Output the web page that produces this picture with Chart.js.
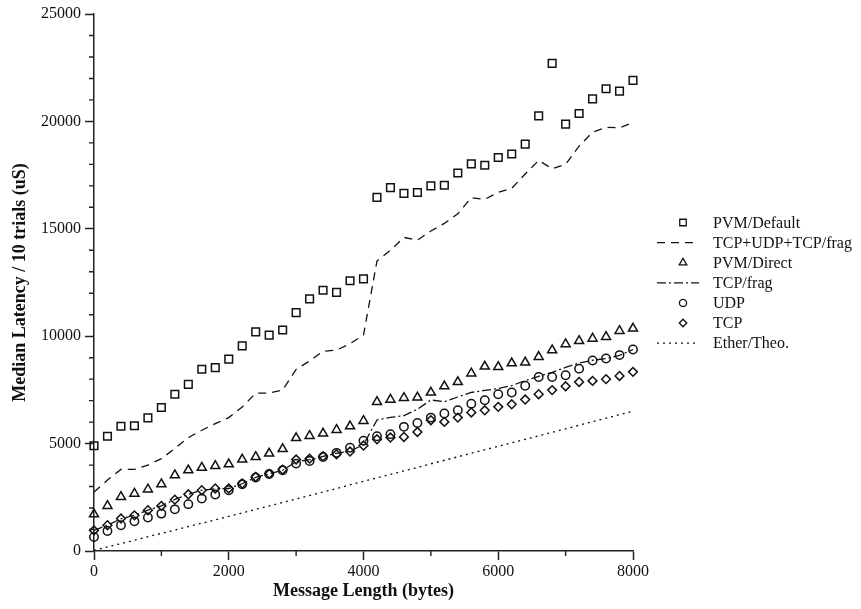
<!DOCTYPE html>
<html>
<head>
<meta charset="utf-8">
<script src="https://cdn.jsdelivr.net/npm/chart.js@4.4.0/dist/chart.umd.min.js"></script>
<style>
    html, body { margin: 0; padding: 0; background: #fff; }
    #contenedor { width: 861px; height: 609px; }
</style>
</head>
<body>
<div id="contenedor"><canvas id="grafico" width="861" height="609"></canvas></div>
<script>
// message lengths (bytes), one sample every 200 bytes
const bytes = [0, 200, 400, 600, 800, 1000, 1200, 1400, 1600, 1800,
    2000, 2200, 2400, 2600, 2800, 3000, 3200, 3400, 3600, 3800,
    4000, 4200, 4400, 4600, 4800, 5000, 5200, 5400, 5600, 5800,
    6000, 6200, 6400, 6600, 6800, 7000, 7200, 7400, 7600, 7800, 8000];

// median latency (uS)
const pvmDefault = [4900, 5340, 5810, 5830, 6200, 6680, 7300, 7760, 8460, 8540,
    8930, 9550, 10200, 10050, 10290, 11100, 11740, 12140, 12040, 12580,
    12670, 16460, 16920, 16650, 16690, 17000, 17030, 17600, 18020, 17960,
    18320, 18480, 18940, 20260, 22700, 19870, 20370, 21050, 21520, 21410, 21910];
const tcpUdpFrag = [2750, 3300, 3800, 3800, 4000, 4300, 4770, 5280, 5620, 5930,
    6210, 6700, 7350, 7350, 7500, 8450, 8850, 9300, 9350, 9650,
    10050, 13500, 14000, 14600, 14470, 14900, 15250, 15700, 16450, 16370,
    16700, 16880, 17550, 18180, 17800, 18000, 18850, 19500, 19720, 19700, 19950];
const pvmDirect = [1710, 2100, 2520, 2670, 2870, 3110, 3530, 3760, 3880, 3960,
    4040, 4260, 4380, 4540, 4750, 5260, 5360, 5470, 5640, 5810,
    6060, 6940, 7050, 7130, 7150, 7380, 7670, 7870, 8270, 8590,
    8570, 8740, 8780, 9040, 9350, 9630, 9780, 9890, 9970, 10250, 10360];
const tcpFrag = [960, 1200, 1500, 1660, 1900, 2100, 2400, 2640, 2830, 2900,
    2910, 3130, 3430, 3590, 3760, 4150, 4250, 4400, 4550, 4650,
    4950, 6100, 6220, 6300, 6600, 7030, 6950, 7170, 7380, 7480,
    7560, 7700, 7930, 8130, 8320, 8550, 8750, 8880, 8960, 9110, 9380];
const udp = [650, 930, 1200, 1380, 1560, 1740, 1940, 2180, 2440, 2630,
    2830, 3110, 3420, 3590, 3760, 4070, 4190, 4380, 4570, 4810,
    5130, 5340, 5440, 5780, 5960, 6210, 6400, 6550, 6860, 7020,
    7300, 7380, 7690, 8100, 8100, 8180, 8490, 8870, 8960, 9120, 9380];
const tcp = [960, 1200, 1510, 1660, 1900, 2100, 2390, 2640, 2830, 2910,
    2910, 3140, 3450, 3590, 3790, 4260, 4300, 4410, 4500, 4630,
    4910, 5200, 5280, 5310, 5540, 6090, 6010, 6210, 6450, 6550,
    6710, 6830, 7050, 7300, 7490, 7670, 7870, 7920, 8000, 8150, 8340];

// theoretical ethernet line
const etherBytes = [0, 1000, 2000, 3000, 4000, 5000, 6000, 7000, 8000];
const etherTheo = [30, 820, 1610, 2420, 3240, 4060, 4870, 5690, 6510];

const xTicksMajor = [0, 2000, 4000, 6000, 8000];
const yTicksMajor = [0, 5000, 10000, 15000, 20000, 25000];

const fuente = "'Liberation Serif', 'Times New Roman', serif";
const negro = "#111";

function puntos(xs, ys) {
    return xs.map((x, i) => ({ x: x, y: ys[i] }));
}

function serieMarcas(label, ys, estilo, radio) {
    return {
        label: label,
        data: puntos(bytes, ys),
        showLine: false,
        clip: false,
        pointStyle: estilo,
        pointRadius: radio,
        pointHoverRadius: radio,
        pointBorderWidth: 1.5,
        pointBorderColor: negro,
        pointBackgroundColor: "rgba(0,0,0,0)"
    };
}

function serieLinea(label, xs, ys, dash) {
    return {
        label: label,
        data: puntos(xs, ys),
        showLine: true,
        clip: false,
        borderColor: negro,
        borderWidth: 1.3,
        borderDash: dash,
        pointRadius: 0,
        tension: 0,
        fill: false
    };
}

// minor ticks (shorter) drawn on the scales
const ticksMenores = {
    id: "ticksMenores",
    afterDraw(chart) {
        const ctx = chart.ctx;
        const sx = chart.scales.x;
        const sy = chart.scales.y;
        ctx.save();
        ctx.strokeStyle = "#222";
        ctx.lineWidth = 1.4;
        ctx.beginPath();
        sx.ticks.forEach(t => {
            if (xTicksMajor.includes(t.value)) return;
            const px = sx.getPixelForValue(t.value);
            ctx.moveTo(px, sx.top);
            ctx.lineTo(px, sx.top + 5);
        });
        sy.ticks.forEach(t => {
            if (yTicksMajor.includes(t.value)) return;
            const py = sy.getPixelForValue(t.value);
            ctx.moveTo(sy.right, py);
            ctx.lineTo(sy.right - 5, py);
        });
        ctx.stroke();
        ctx.restore();
    }
};

// legend on the right side
const leyenda = {
    id: "leyenda",
    afterDraw(chart) {
        const ctx = chart.ctx;
        const y0 = 222.5;
        const paso = 20.1;
        ctx.save();
        ctx.font = "16px " + fuente;
        ctx.textBaseline = "middle";
        ctx.fillStyle = negro;
        chart.data.datasets.forEach((ds, i) => {
            const y = y0 + i * paso;
            ctx.strokeStyle = negro;
            if (ds.showLine) {
                ctx.lineWidth = ds.borderWidth;
                ctx.setLineDash(ds.borderDash || []);
                ctx.beginPath();
                ctx.moveTo(657, y);
                ctx.lineTo(699, y);
                ctx.stroke();
                ctx.setLineDash([]);
            } else {
                ctx.lineWidth = 1.3;
                ctx.fillStyle = "rgba(0,0,0,0)";
                Chart.helpers.drawPoint(ctx, {
                    pointStyle: ds.pointStyle,
                    radius: ds.pointRadius * 0.85,
                    rotation: 0,
                    borderWidth: 1.3
                }, 683, y);
                ctx.fillStyle = negro;
            }
            ctx.fillText(ds.label, 713, y + 1);
        });
        ctx.restore();
    }
};

const ctxGrafico = document.getElementById("grafico").getContext("2d");

const grafico = new Chart(ctxGrafico, {
    type: "scatter",
    data: {
        datasets: [
            serieMarcas("PVM/Default", pvmDefault, "rect", 5.4),
            serieLinea("TCP+UDP+TCP/frag", bytes, tcpUdpFrag, [8, 6]),
            serieMarcas("PVM/Direct", pvmDirect, "triangle", 5.2),
            serieLinea("TCP/frag", bytes, tcpFrag, [9, 3, 2, 3]),
            serieMarcas("UDP", udp, "circle", 4.2),
            serieMarcas("TCP", tcp, "rectRot", 4.4),
            serieLinea("Ether/Theo.", etherBytes, etherTheo, [2, 4])
        ]
    },
    options: {
        responsive: false,
        animation: false,
        devicePixelRatio: 1,
        layout: { padding: { left: 0, right: 228, top: 14, bottom: 0 } },
        plugins: {
            legend: { display: false },
            tooltip: { enabled: false }
        },
        scales: {
            x: {
                type: "linear",
                min: 0,
                max: 8000,
                afterFit: s => { s.height = 58; },
                border: { display: true, color: "#222", width: 1.5 },
                grid: {
                    display: true,
                    drawOnChartArea: false,
                    drawTicks: true,
                    tickLength: 9,
                    tickWidth: 1.5,
                    tickColor: c => (c.tick && xTicksMajor.includes(c.tick.value)) ? "#222" : "rgba(0,0,0,0)"
                },
                ticks: {
                    stepSize: 1000,
                    autoSkip: false,
                    maxRotation: 0,
                    padding: 2,
                    color: negro,
                    font: { family: fuente, size: 16 },
                    callback: v => xTicksMajor.includes(v) ? String(v) : ""
                },
                title: {
                    display: true,
                    text: "Message Length (bytes)",
                    color: negro,
                    font: { family: fuente, size: 18, weight: "bold" },
                    padding: { top: 0, bottom: 7 }
                }
            },
            y: {
                type: "linear",
                min: 0,
                max: 25000,
                afterFit: s => { s.width = 94; },
                border: { display: true, color: "#222", width: 1.5 },
                grid: {
                    display: true,
                    drawOnChartArea: false,
                    drawTicks: true,
                    tickLength: 9,
                    tickWidth: 1.5,
                    tickColor: c => (c.tick && yTicksMajor.includes(c.tick.value)) ? "#222" : "rgba(0,0,0,0)"
                },
                ticks: {
                    stepSize: 1000,
                    autoSkip: false,
                    padding: 4,
                    color: negro,
                    font: { family: fuente, size: 16 },
                    callback: v => yTicksMajor.includes(v) ? String(v) : ""
                },
                title: {
                    display: true,
                    text: "Median Latency / 10 trials (uS)",
                    color: negro,
                    font: { family: fuente, size: 18, weight: "bold" },
                    padding: { top: 10, bottom: 0 }
                }
            }
        }
    },
    plugins: [ticksMenores, leyenda]
});
</script>
</body>
</html>
